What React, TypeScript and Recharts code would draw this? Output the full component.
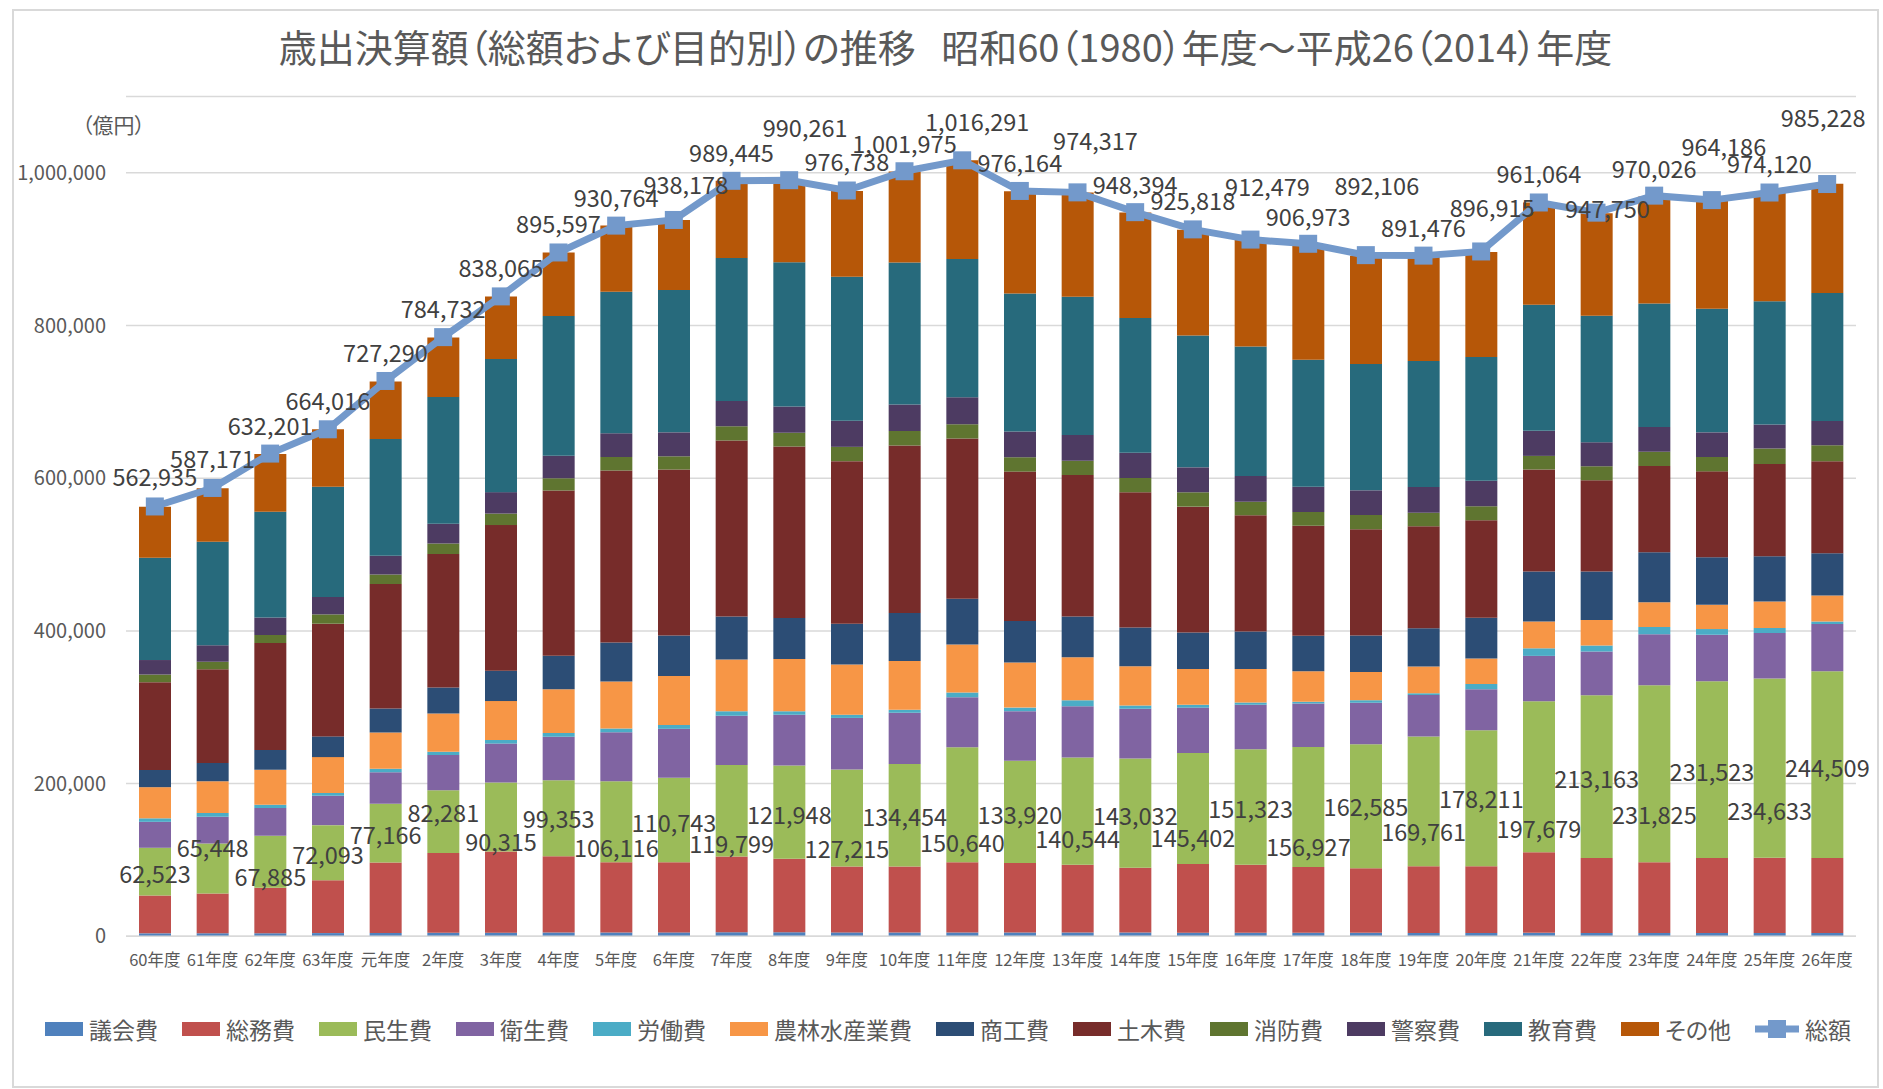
import React from 'react';
import { ComposedChart, Bar, Line, XAxis, YAxis, CartesianGrid, LabelList } from 'recharts';

// 年度（昭和60〜平成26）
const years = [
  '60年度', '61年度', '62年度', '63年度', '元年度', '2年度', '3年度', '4年度', '5年度', '6年度',
  '7年度', '8年度', '9年度', '10年度', '11年度', '12年度', '13年度', '14年度', '15年度', '16年度',
  '17年度', '18年度', '19年度', '20年度', '21年度', '22年度', '23年度', '24年度', '25年度', '26年度',
];

// 目的別 歳出決算額（億円）
const gikai = [3900, 4000, 4100, 4200, 4400, 4600, 4800, 5000, 5100, 5100, 5200, 5200, 5100, 5100, 5100, 5000, 5000, 4900, 4800, 4700, 4600, 4500, 4400, 4400, 4500, 4400, 4400, 4300, 4300, 4300];
const somu = [49500, 52200, 59600, 69300, 92100, 104500, 106200, 99900, 91900, 91900, 99300, 96400, 86200, 86200, 91900, 91000, 88700, 85000, 89800, 89000, 86300, 84500, 87400, 87400, 105600, 98200, 92600, 98300, 98700, 98300];
const minsei = [62523, 65448, 67885, 72093, 77166, 82281, 90315, 99353, 106116, 110743, 119799, 121948, 127215, 134454, 150640, 133920, 140544, 143032, 145402, 151323, 156927, 162585, 169761, 178211, 197679, 213163, 231825, 231523, 234633, 244509];
const eisei = [34000, 35000, 36600, 38500, 41300, 46000, 51100, 57000, 64000, 64000, 64700, 66500, 67500, 67000, 65300, 64900, 66900, 65100, 59500, 58100, 57200, 54300, 54400, 53400, 59500, 57200, 66900, 60800, 59500, 61800];
const rodo = [4600, 4700, 4200, 3700, 4600, 4200, 4700, 5100, 5100, 5100, 5600, 4700, 4200, 3800, 6500, 4700, 7900, 4200, 3700, 3200, 2300, 3300, 2300, 7100, 9900, 7900, 9400, 7500, 6500, 3300];
const norin = [40800, 41700, 45900, 46900, 47400, 50100, 51000, 57200, 61400, 64200, 68000, 68400, 65600, 64100, 62800, 59000, 56300, 51500, 46900, 43600, 39800, 37000, 35100, 33200, 35100, 33300, 32300, 31800, 34700, 34200];
const shoko = [22500, 23900, 25800, 27100, 31300, 34200, 39800, 44000, 51100, 52900, 56200, 53800, 53400, 62800, 60000, 54300, 53400, 50600, 47700, 49200, 46400, 47800, 50200, 53400, 65600, 63700, 65600, 62300, 59500, 55300];
const doboku = [115000, 122700, 140100, 147600, 163000, 174700, 190700, 216400, 225300, 217400, 230400, 224400, 213100, 219200, 209800, 195800, 185400, 177100, 164900, 152200, 144300, 139100, 133500, 127900, 133500, 119400, 112900, 112400, 120800, 120400];
const shobo = [10000, 9800, 10300, 12200, 12700, 14000, 15000, 15900, 17800, 17300, 18800, 18300, 18700, 19200, 18700, 18800, 18800, 18700, 18800, 17800, 17800, 18700, 17700, 18300, 17800, 18300, 18700, 18800, 20200, 21100];
const keisatsu = [19000, 21600, 22900, 22900, 24300, 25800, 28100, 29500, 30900, 31400, 33200, 34200, 34200, 34700, 35100, 33700, 33700, 33200, 32700, 33700, 33200, 32300, 33800, 33200, 32800, 31400, 32300, 32300, 31300, 31800];
const kyoiku = [134000, 135700, 138700, 144300, 153200, 166000, 174200, 183200, 185400, 186300, 187000, 188800, 188700, 186000, 181100, 180900, 180800, 176300, 172800, 169700, 166200, 165600, 164900, 162200, 165100, 165700, 161800, 161800, 161600, 167600];
const sonota = [66900, 70200, 75700, 75200, 75300, 77700, 82100, 82900, 86800, 91900, 101200, 107300, 112100, 119000, 129400, 133900, 136800, 138400, 138500, 140000, 151100, 141500, 137800, 137500, 134100, 134300, 140300, 142400, 141800, 143100];
const total = [562935, 587171, 632201, 664016, 727290, 784732, 838065, 895597, 930764, 938178, 989445, 990261, 976738, 1001975, 1016291, 976164, 974317, 948394, 925818, 912479, 906973, 892106, 891476, 896915, 961064, 947750, 970026, 964186, 974120, 985228];

const yTicks = [0, 200000, 400000, 600000, 800000, 1000000];

// label placement tweaks (px), as dragged in the original
const totalLabelDx = [0, 0, 0, 0, 0, 0, 0, 0, 0, 12, 0, 16, 0, 0, 15, 0, 18, 0, 0, 17, 0, 11, 0, 11, 0, 11, 0, 12, 0, -4];
const totalLabelDy = [-30, -30, -29, -29, -29, -29, -29, -29, -29, -36, -29, -53, -30, -28, -39, -29, -52, -28, -29, -54, -28, -70, -29, -44, -29, -5, -28, -54, -30, -67];
const minseiLabelDy = [1, -21, 14, 1, 1, -10, 24, 0, 25, 2, 32, 2, 30, 1, 37, 2, 27, 2, 28, 1, 39, 0, 30, 0, 51, 1, 40, 1, 42, 2];

const series = [
  { key: '議会費', values: gikai, color: '#4F81BD' },
  { key: '総務費', values: somu, color: '#C0504D' },
  { key: '民生費', values: minsei, color: '#9BBB59' },
  { key: '衛生費', values: eisei, color: '#8064A2' },
  { key: '労働費', values: rodo, color: '#4BACC6' },
  { key: '農林水産業費', values: norin, color: '#F79646' },
  { key: '商工費', values: shoko, color: '#2C4D75' },
  { key: '土木費', values: doboku, color: '#772C2A' },
  { key: '消防費', values: shobo, color: '#5F7530' },
  { key: '警察費', values: keisatsu, color: '#4D3B62' },
  { key: '教育費', values: kyoiku, color: '#276A7C' },
  { key: 'その他', values: sonota, color: '#B65708' },
];

const LINE_COLOR = '#7399CB';
const TEXT = '#595959';
const LABEL = '#404040';
const FONT = '"Noto Sans CJK JP", "Noto Sans", sans-serif';

const data = years.map((year, i) => {
  const row: Record<string, string | number> = { year, total: total[i] };
  series.forEach((s) => { row[s.key] = s.values[i]; });
  return row;
});

const W = 1883;
const H = 1089;
const PLOT_LEFT = 126;
const PLOT_RIGHT = 1856;
const PLOT_TOP = 96.4;
const PLOT_BOTTOM = 936.3;
const X_AXIS_H = 40;

const fmt = (v: number) => v.toLocaleString('en-US');

const box = (props: any) => {
  const vb = props.viewBox || {};
  return {
    x: props.x ?? vb.x,
    y: props.y ?? vb.y,
    width: props.width ?? vb.width ?? 0,
    height: props.height ?? vb.height ?? 0,
  };
};

const SquareDot = (props: any) => {
  const { cx, cy, index } = props;
  if (cx == null || cy == null) return <g key={`d-${index}`} />;
  return <rect key={`d-${index}`} x={cx - 9} y={cy - 9} width={18} height={18} fill={LINE_COLOR} />;
};

const TotalLabel = (props: any) => {
  const { x, y } = box(props);
  const v = Number(props.value);
  const i = props.index ?? total.indexOf(v);
  return (
    <text x={x + totalLabelDx[i]} y={y + totalLabelDy[i]} textAnchor="middle" dominantBaseline="central"
      fontSize={23.5} fill={LABEL}>
      {fmt(v)}
    </text>
  );
};

const MinseiLabel = (props: any) => {
  const { x, y, width, height } = box(props);
  const v = Number(props.value);
  const i = props.index ?? minsei.indexOf(v);
  return (
    <text x={x + width / 2} y={y + height / 2 + minseiLabelDy[i]} textAnchor="middle" dominantBaseline="central"
      fontSize={23.5} fill={LABEL}>
      {fmt(v)}
    </text>
  );
};

const LegendItems = () => (
  <div style={{ position: 'absolute', left: 45, top: 1029 - 15, height: 30, display: 'flex', alignItems: 'center', gap: 24 }}>
    {series.map((s) => (
      <div key={s.key} style={{ display: 'flex', alignItems: 'center' }}>
        <span style={{ width: 38, height: 14, background: s.color, display: 'inline-block', marginRight: 6 }} />
        <span style={{ fontSize: 23, color: TEXT, lineHeight: '30px', whiteSpace: 'nowrap' }}>{s.key}</span>
      </div>
    ))}
    <div style={{ display: 'flex', alignItems: 'center' }}>
      <svg width={44} height={20} style={{ marginRight: 6 }}>
        <line x1={0} y1={10} x2={44} y2={10} stroke={LINE_COLOR} strokeWidth={7} />
        <rect x={13} y={1} width={18} height={18} fill={LINE_COLOR} />
      </svg>
      <span style={{ fontSize: 23, color: TEXT, lineHeight: '30px', whiteSpace: 'nowrap' }}>総額</span>
    </div>
  </div>
);

export default function App() {
  return (
    <div style={{ position: 'absolute', left: 0, top: 0, width: W, height: H, background: '#fff', fontFamily: FONT, fontFeatureSettings: '"palt" 1' }}>
      <div style={{ position: 'absolute', left: 12, top: 9, width: 1867, height: 1079, border: '2px solid #D9D9D9', boxSizing: 'border-box' }} />
      <div style={{ position: 'absolute', left: 12, top: 25, width: 1867, textAlign: 'center', fontSize: 38, lineHeight: '42px', color: TEXT, whiteSpace: 'pre' }}>
        {'歳出決算額（総額および目的別）の推移   昭和60（1980）年度～平成26（2014）年度'}
      </div>
      <div style={{ position: 'absolute', left: 82, top: 112, fontSize: 21, lineHeight: '24px', color: TEXT }}>（億円）</div>
      <div style={{ position: 'absolute', left: 0, top: 0 }}>
        <ComposedChart
          width={W}
          height={H}
          data={data}
          margin={{ top: PLOT_TOP, right: W - PLOT_RIGHT, bottom: H - PLOT_BOTTOM - X_AXIS_H, left: 0 }}
        >
          <CartesianGrid vertical={false} stroke="#D9D9D9" strokeWidth={1.5} />
          <XAxis dataKey="year" height={X_AXIS_H} tickLine={false} axisLine={{ stroke: '#D9D9D9', strokeWidth: 1.5 }}
            tick={{ fill: TEXT, fontSize: 16.5 }} tickMargin={12} interval={0} />
          <YAxis width={PLOT_LEFT} domain={[0, 1100000]} ticks={yTicks} tickLine={false} axisLine={false}
            tick={{ fill: TEXT, fontSize: 20 }} tickMargin={14} tickFormatter={fmt} />
          {series.map((s) => (
            <Bar key={s.key} dataKey={s.key} stackId="a" fill={s.color} barSize={32} isAnimationActive={false}>
              {s.key === '民生費' && <LabelList dataKey="民生費" content={MinseiLabel} />}
            </Bar>
          ))}
          <Line dataKey="total" stroke={LINE_COLOR} strokeWidth={7} dot={SquareDot} activeDot={false}
            isAnimationActive={false}>
            <LabelList dataKey="total" content={TotalLabel} />
          </Line>
        </ComposedChart>
      </div>
      <LegendItems />
    </div>
  );
}
